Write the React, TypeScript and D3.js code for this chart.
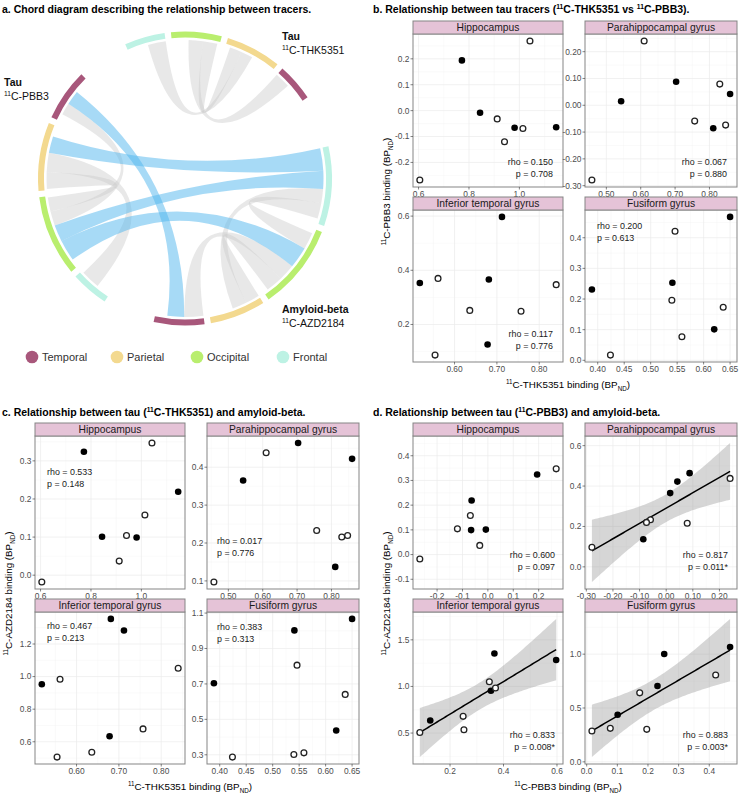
import React from "react";
import * as d3 from "d3";

// ======================= DATA =======================
// ---- Panel a: chord diagram ----
const tracerNames = ["THK5351", "AZD2184", "PBB3"]; // clockwise from the top
const regionOrder = ["Frontal", "Occipital", "Parietal", "Temporal"]; // clockwise inside each tracer
const legendRegions = ["Temporal", "Parietal", "Occipital", "Frontal"];
// sector sizes (same units as link values) per tracer, regions in regionOrder
const sectorValues = [
  [16, 20, 22, 15],
  [31.5, 34, 22, 20],
  [15, 32, 27, 20.5],
];
// weight of unshown links at the start of every sector
const hiddenLead = [
  [8.5, 7, 2, 0],
  [0, 2, 0, 0],
  [6, 3.5, 0.5, 3],
];
// [tracerA, regionA, valueA, tracerB, regionB, valueB]
const withinTracerLinks = [
  [0, "Frontal", 7.5, 0, "Parietal", 5],
  [0, "Occipital", 6, 0, "Parietal", 5],
  [0, "Occipital", 6, 0, "Temporal", 6.5],
  [1, "Frontal", 6.5, 1, "Occipital", 7],
  [1, "Frontal", 6, 1, "Parietal", 6],
  [1, "Occipital", 7, 1, "Parietal", 6],
  [1, "Occipital", 7, 1, "Temporal", 8],
  [2, "Frontal", 8, 2, "Parietal", 8],
  [2, "Occipital", 6, 2, "Parietal", 7],
  [2, "Occipital", 6, 2, "Temporal", 5],
];
const tauAmyloidLinks = [
  [2, "Parietal", 7, 1, "Frontal", 9.5],
  [2, "Occipital", 7, 1, "Frontal", 7.5],
  [2, "Occipital", 9, 1, "Occipital", 9],
  [2, "Temporal", 6, 1, "Temporal", 7],
];

// ---- Panels b-d: regional binding (BPND), 9 subjects per region ----
const regionNames = ["Hippocampus", "Parahippocampal gyrus", "Inferior temporal gyrus", "Fusiform gyrus"];
const thk5351 = [
  [0.605, 0.772, 0.844, 0.912, 0.941, 0.981, 1.014, 1.042, 1.146],
  [0.458, 0.543, 0.61, 0.703, 0.757, 0.811, 0.83, 0.847, 0.86],
  [0.518, 0.554, 0.561, 0.636, 0.678, 0.681, 0.712, 0.757, 0.84],
  [0.389, 0.424, 0.54, 0.541, 0.546, 0.559, 0.62, 0.637, 0.65],
];
const pbb3 = [
  [-0.268, 0.194, -0.008, -0.032, -0.12, -0.066, -0.069, 0.269, -0.064],
  [-0.279, 0.015, 0.24, 0.088, -0.059, -0.086, 0.079, -0.074, 0.042],
  [0.353, 0.087, 0.37, 0.252, 0.126, 0.366, 0.597, 0.249, 0.347],
  [0.231, 0.017, 0.196, 0.253, 0.421, 0.077, 0.101, 0.173, 0.468],
];
const azd2184 = [
  [-0.018, 0.324, 0.101, 0.037, 0.104, 0.099, 0.158, 0.347, 0.219],
  [0.097, 0.365, 0.438, 0.464, 0.233, 0.137, 0.216, 0.22, 0.422],
  [0.953, 0.506, 0.984, 0.536, 0.634, 1.354, 1.283, 0.679, 1.051],
  [0.704, 0.287, 0.302, 1.002, 0.806, 0.311, 0.437, 0.641, 1.067],
];
const amyloidPositive = [
  [0, 1, 1, 0, 0, 1, 0, 0, 1],
  [0, 1, 0, 1, 0, 1, 0, 0, 1],
  [1, 0, 0, 0, 1, 1, 1, 0, 0],
  [1, 0, 0, 1, 0, 0, 1, 0, 1],
];
const statsB = [["0.150", "0.708"], ["0.067", "0.880"], ["0.117", "0.776"], ["0.200", "0.613"]];
const statsC = [["0.533", "0.148"], ["0.017", "0.776"], ["0.467", "0.213"], ["0.383", "0.313"]];
const statsD = [["0.600", "0.097"], ["0.817", "0.011*"], ["0.833", "0.008*"], ["0.883", "0.003*"]];

const thkTicks = [[0.6, 0.8, 1.0], [0.5, 0.6, 0.7, 0.8], [0.6, 0.7, 0.8], [0.4, 0.45, 0.5, 0.55, 0.6, 0.65]];
const pbbTicks = [[-0.2, -0.1, 0.0, 0.1, 0.2], [-0.3, -0.2, -0.1, 0.0, 0.1, 0.2], [0.2, 0.4, 0.6], [0.0, 0.1, 0.2, 0.3, 0.4]];
const azdTicksC = [[0.0, 0.1, 0.2, 0.3], [0.1, 0.2, 0.3, 0.4], [0.6, 0.8, 1.0, 1.2], [0.3, 0.5, 0.7, 0.9, 1.1]];
const azdTicksD = [[-0.1, 0.0, 0.1, 0.2, 0.3, 0.4], [0.0, 0.2, 0.4, 0.6], [0.5, 1.0, 1.5], [0.0, 0.5, 1.0]];

// ======================= LAYOUT / STYLE =======================
const FONT = '"Liberation Sans", Arial, Helvetica, sans-serif';
const RAD = Math.PI / 180;
const CX = 185, CY = 178.5, R_OUT = 147, R_IN = 141, R_RIB = 138.5;
const START_ANGLE = -24, INNER_GAP = 2.5;
const regionColor: Record<string, string> = {
  Temporal: "#A8577B",
  Parietal: "#F3D98F",
  Occipital: "#B9EE6E",
  Frontal: "#BDF2E4",
};
const legendX = [32, 117, 197, 283];

const COLS = [[35, 185], [207, 359]];
const ROWS = [[34, 187], [210, 362]];
const STRIP_H = 13;
const STRIP_FILL = "#E5C3D7";
const BORDER = "#858585";
const TICK_FS = 8.4, NOTE_FS = 8.9, TITLE_FS = 10.5, AXIS_FS = 9.8;
// [corner, inset, first baseline offset]
const labB = [["br", 10, 22], ["br", 10, 22], ["br", 10, 25], ["tl", 12, 19]];
const labC = [["tl", 12, 39], ["bl", 10, 45], ["tl", 12, 17], ["tl", 10, 18]];
const labD = [["br", 8, 31], ["br", 9, 31], ["br", 8, 26], ["br", 9, 26]];

// ======================= HELPERS =======================
function Rich({ text, fs }: { text: string; fs: number }) {
  const re = /\^\{([^}]*)\}|_\{([^}]*)\}|([^\^_]+)/g;
  const parts: { t: string; k: string }[] = [];
  let m: RegExpExecArray | null;
  while ((m = re.exec(text))) {
    if (m[1] !== undefined) parts.push({ t: m[1], k: "sup" });
    else if (m[2] !== undefined) parts.push({ t: m[2], k: "sub" });
    else parts.push({ t: m[3], k: "n" });
  }
  let cur = 0;
  return (
    <>
      {parts.map((p, i) => {
        const target = p.k === "sup" ? -fs * 0.38 : p.k === "sub" ? fs * 0.32 : 0;
        const dy = target - cur;
        cur = target;
        return (
          <tspan key={i} dy={dy} fontSize={p.k === "n" ? fs : fs * 0.64}>
            {p.t}
          </tspan>
        );
      })}
    </>
  );
}

function chordLayout() {
  const total = d3.sum(sectorValues.flat());
  const groupGap = (360 - total - 3 * (regionOrder.length - 1) * INNER_GAP) / 3;
  const nodes: any[] = [];
  let a = START_ANGLE;
  tracerNames.forEach((tr, t) => {
    regionOrder.forEach((rg, r) => {
      const size = sectorValues[t][r];
      nodes.push({ t, region: rg, start: a, end: a + size, lead: hiddenLead[t][r], ends: [] });
      a += size + (r < regionOrder.length - 1 ? INNER_GAP : 0);
    });
    a += groupGap;
  });
  const idx = (t: number, rg: string) => t * regionOrder.length + regionOrder.indexOf(rg);
  const links = [
    ...withinTracerLinks.map((l) => ({ l, cross: false })),
    ...tauAmyloidLinks.map((l) => ({ l, cross: true })),
  ];
  const placed: any[] = links.map(() => [null, null]);
  links.forEach(({ l }, k) => {
    const na = idx(l[0] as number, l[1] as string);
    const nb = idx(l[3] as number, l[4] as string);
    nodes[na].ends.push({ k, side: 0, value: l[2], other: nb });
    nodes[nb].ends.push({ k, side: 1, value: l[5], other: na });
  });
  nodes.forEach((n) => {
    const c = (n.start + n.end) / 2;
    const key = (e: any) => {
      const o = nodes[e.other];
      const oc = (o.start + o.end) / 2;
      return (((oc - c) % 360) + 360) % 360;
    };
    n.ends.sort((p: any, q: any) => key(q) - key(p));
    let pos = n.start + n.lead;
    n.ends.forEach((e: any) => {
      placed[e.k][e.side] = { startAngle: pos * RAD, endAngle: (pos + e.value) * RAD };
      pos += e.value;
    });
  });
  return {
    nodes,
    ribbons: links.map((L, k) => ({ cross: L.cross, source: placed[k][0], target: placed[k][1] })),
  };
}

function lmBand(xs: number[], ys: number[]) {
  const n = xs.length;
  const mx = d3.mean(xs)!, my = d3.mean(ys)!;
  let sxx = 0, sxy = 0;
  xs.forEach((x, i) => {
    sxx += (x - mx) ** 2;
    sxy += (x - mx) * (ys[i] - my);
  });
  const b = sxy / sxx, a = my - b * mx;
  let sse = 0;
  xs.forEach((x, i) => (sse += (ys[i] - a - b * x) ** 2));
  const s = Math.sqrt(sse / (n - 2));
  const tq = 2.364624; // qt(0.975, df = 7)
  const [lo, hi] = d3.extent(xs) as [number, number];
  return d3.range(80).map((i) => {
    const x = lo + ((hi - lo) * i) / 79;
    const se = s * Math.sqrt(1 / n + (x - mx) ** 2 / sxx);
    const f = a + b * x;
    return { x, f, lo: f - tq * se, hi: f + tq * se };
  });
}

function fmtTicks(ticks: number[]) {
  const p = d3.precisionFixed(ticks[1] - ticks[0]);
  const f = d3.format(`.${p}f`);
  return (v: number) => f(v).replace("\u2212", "-");
}

function minorOf(ticks: number[], dom: number[]) {
  const step = ticks[1] - ticks[0];
  const out: number[] = [];
  for (let v = ticks[0] - step / 2; v <= dom[1] + 1e-9; v += step) {
    if (v >= dom[0]) out.push(v);
  }
  return out;
}

function Facet(props: any) {
  const { bx, by, fi, xs, ys, pos, xt, yt, stat, lab, smooth } = props;
  const [c0, c1] = COLS[fi % 2];
  const [r0, r1] = ROWS[Math.floor(fi / 2)];
  const X0 = bx + c0, X1 = bx + c1, Y0 = by + r0, Y1 = by + r1;
  const band = smooth ? lmBand(xs, ys) : null;
  const showLine = smooth && stat[1].includes("*");
  const xe = d3.extent(xs) as [number, number];
  let ylo = d3.min(ys)!, yhi = d3.max(ys)!;
  if (band) {
    ylo = Math.min(ylo, d3.min(band, (d) => d.lo)!);
    yhi = Math.max(yhi, d3.max(band, (d) => d.hi)!);
  }
  const xr = xe[1] - xe[0], yr = yhi - ylo;
  const xDom = [xe[0] - 0.05 * xr, xe[1] + 0.05 * xr];
  const yDom = [ylo - 0.05 * yr, yhi + 0.05 * yr];
  const x = d3.scaleLinear().domain(xDom).range([X0, X1]);
  const y = d3.scaleLinear().domain(yDom).range([Y1, Y0]);
  const xTicks = xt.filter((v: number) => v >= xDom[0] && v <= xDom[1]);
  const yTicks = yt.filter((v: number) => v >= yDom[0] && v <= yDom[1]);
  const fx = fmtTicks(xt), fy = fmtTicks(yt);
  const area = band
    ? d3.area<any>().x((d) => x(d.x)).y0((d) => y(d.lo)).y1((d) => y(d.hi))(band)
    : null;
  const line = band ? d3.line<any>().x((d) => x(d.x)).y((d) => y(d.f))(band) : null;
  const [corner, inset, off] = lab;
  const tx = corner === "br" ? X1 - inset : X0 + inset;
  const ty = corner === "tl" ? Y0 + off : Y1 - off;
  const anchor = corner === "br" ? "end" : "start";
  return (
    <g>
      <rect x={X0} y={Y0} width={X1 - X0} height={Y1 - Y0} fill="#fff" />
      {minorOf(xt, xDom).map((v, i) => (
        <line key={"mx" + i} x1={x(v)} x2={x(v)} y1={Y0} y2={Y1} stroke="#F3F3F3" strokeWidth={0.4} />
      ))}
      {minorOf(yt, yDom).map((v, i) => (
        <line key={"my" + i} y1={y(v)} y2={y(v)} x1={X0} x2={X1} stroke="#F3F3F3" strokeWidth={0.4} />
      ))}
      {xTicks.map((v: number, i: number) => (
        <line key={"gx" + i} x1={x(v)} x2={x(v)} y1={Y0} y2={Y1} stroke="#EBEBEB" strokeWidth={0.7} />
      ))}
      {yTicks.map((v: number, i: number) => (
        <line key={"gy" + i} y1={y(v)} y2={y(v)} x1={X0} x2={X1} stroke="#EBEBEB" strokeWidth={0.7} />
      ))}
      {showLine && area && <path d={area} fill="#999999" fillOpacity={0.4} />}
      {showLine && line && <path d={line} fill="none" stroke="#000" strokeWidth={1.5} />}
      {xs.map((v: number, i: number) =>
        pos[i] ? (
          <circle key={"p" + i} cx={x(v)} cy={y(ys[i])} r={3.3} fill="#000" />
        ) : (
          <circle key={"p" + i} cx={x(v)} cy={y(ys[i])} r={2.9} fill="#fff" stroke="#222" strokeWidth={1.3} />
        )
      )}
      <rect x={X0} y={Y0} width={X1 - X0} height={Y1 - Y0} fill="none" stroke={BORDER} strokeWidth={1} />
      <rect x={X0} y={Y0 - STRIP_H} width={X1 - X0} height={STRIP_H} fill={STRIP_FILL} stroke={BORDER} strokeWidth={1} />
      <text x={(X0 + X1) / 2} y={Y0 - STRIP_H / 2 + 3.7} textAnchor="middle" fontSize={10.3} fill="#1A1A1A">
        {regionNames[fi]}
      </text>
      {xTicks.map((v: number, i: number) => (
        <g key={"tx" + i}>
          <line x1={x(v)} x2={x(v)} y1={Y1} y2={Y1 + 2.5} stroke="#333" strokeWidth={0.6} />
          <text x={x(v)} y={Y1 + 10.3} textAnchor="middle" fontSize={TICK_FS} fill="#4D4D4D">
            {fx(v)}
          </text>
        </g>
      ))}
      {yTicks.map((v: number, i: number) => (
        <g key={"ty" + i}>
          <line x1={X0 - 2.5} x2={X0} y1={y(v)} y2={y(v)} stroke="#333" strokeWidth={0.6} />
          <text x={X0 - 3.5} y={y(v) + 2.9} textAnchor="end" fontSize={TICK_FS} fill="#4D4D4D">
            {fy(v)}
          </text>
        </g>
      ))}
      <text x={tx} y={ty} textAnchor={anchor} fontSize={NOTE_FS} fill="#1A1A1A">
        {`rho = ${stat[0]}`}
      </text>
      <text x={tx} y={ty + 12} textAnchor={anchor} fontSize={NOTE_FS} fill="#1A1A1A">
        {`p = ${stat[1]}`}
      </text>
    </g>
  );
}

function ScatterBlock(props: any) {
  const { bx, by, xData, yData, xt, yt, stats, labs, smooth, xTitle, yTitle } = props;
  const yc = by + (ROWS[0][0] - STRIP_H + ROWS[1][1]) / 2;
  return (
    <g>
      {regionNames.map((_, fi) => (
        <Facet
          key={fi}
          bx={bx}
          by={by}
          fi={fi}
          xs={xData[fi]}
          ys={yData[fi]}
          pos={amyloidPositive[fi]}
          xt={xt[fi]}
          yt={yt[fi]}
          stat={stats[fi]}
          lab={labs[fi]}
          smooth={smooth}
        />
      ))}
      <text x={bx + 190} y={by + 388} textAnchor="middle" fontSize={AXIS_FS} fill="#000">
        <Rich text={xTitle} fs={AXIS_FS} />
      </text>
      <text transform={`translate(${bx + 11.5},${yc}) rotate(-90)`} textAnchor="middle" fontSize={AXIS_FS} fill="#000">
        <Rich text={yTitle} fs={AXIS_FS} />
      </text>
    </g>
  );
}

export default function App() {
  const { nodes, ribbons } = chordLayout();
  const ribbon = d3.ribbon<any, any>().radius(R_RIB);
  const arc = d3.arc<any>();
  return (
    <svg
      width={739}
      height={796}
      style={{ position: "absolute", left: 0, top: 0, fontFamily: FONT, background: "#fff" }}
      fontFamily={FONT}
    >
      <rect width={739} height={796} fill="#fff" />
      {/* Panel titles */}
      <text x={2} y={13} fontSize={TITLE_FS} fontWeight="bold">
        <Rich text="a. Chord diagram describing the relationship between tracers." fs={TITLE_FS} />
      </text>
      <text x={373} y={13} fontSize={TITLE_FS} fontWeight="bold">
        <Rich text="b. Relationship between tau tracers (^{11}C-THK5351 vs ^{11}C-PBB3)." fs={TITLE_FS} />
      </text>
      <text x={2} y={416} fontSize={TITLE_FS} fontWeight="bold">
        <Rich text="c. Relationship between tau (^{11}C-THK5351) and amyloid-beta." fs={TITLE_FS} />
      </text>
      <text x={373} y={416} fontSize={TITLE_FS} fontWeight="bold">
        <Rich text="d. Relationship between tau (^{11}C-PBB3) and amyloid-beta." fs={TITLE_FS} />
      </text>

      {/* Panel a: chord diagram */}
      <g transform={`translate(${CX},${CY})`}>
        {ribbons
          .filter((r) => !r.cross)
          .map((r, i) => (
            <path key={"g" + i} d={ribbon(r) as any} fill="#C8C8C8" fillOpacity={0.42} />
          ))}
        {ribbons
          .filter((r) => r.cross)
          .map((r, i) => (
            <path key={"b" + i} d={ribbon(r) as any} fill="#4FB6EE" fillOpacity={0.5} />
          ))}
        {nodes.map((n, i) => (
          <path
            key={"n" + i}
            d={arc({ innerRadius: R_IN, outerRadius: R_OUT, startAngle: n.start * RAD, endAngle: n.end * RAD }) as any}
            fill={regionColor[n.region]}
          />
        ))}
      </g>
      <g fontSize={10.5} fill="#111">
        <text x={282} y={40} fontWeight="bold">Tau</text>
        <text x={282} y={54}><Rich text="^{11}C-THK5351" fs={10.5} /></text>
        <text x={4} y={86} fontWeight="bold">Tau</text>
        <text x={4} y={100}><Rich text="^{11}C-PBB3" fs={10.5} /></text>
        <text x={282} y={313} fontWeight="bold">Amyloid-beta</text>
        <text x={282} y={327}><Rich text="^{11}C-AZD2184" fs={10.5} /></text>
      </g>
      {legendRegions.map((rg, i) => (
        <g key={rg}>
          <circle cx={legendX[i]} cy={357} r={6.3} fill={regionColor[rg]} />
          <text x={legendX[i] + 10} y={361} fontSize={11} fill="#333">
            {rg}
          </text>
        </g>
      ))}

      {/* Panel b */}
      <ScatterBlock
        bx={378}
        by={0}
        xData={thk5351}
        yData={pbb3}
        xt={thkTicks}
        yt={pbbTicks}
        stats={statsB}
        labs={labB}
        smooth={false}
        xTitle="^{11}C-THK5351 binding (BP_{ND})"
        yTitle="^{11}C-PBB3 binding (BP_{ND})"
      />
      {/* Panel c */}
      <ScatterBlock
        bx={0}
        by={402}
        xData={thk5351}
        yData={azd2184}
        xt={thkTicks}
        yt={azdTicksC}
        stats={statsC}
        labs={labC}
        smooth={false}
        xTitle="^{11}C-THK5351 binding (BP_{ND})"
        yTitle="^{11}C-AZD2184 binding (BP_{ND})"
      />
      {/* Panel d */}
      <ScatterBlock
        bx={378}
        by={402}
        xData={pbb3}
        yData={azd2184}
        xt={pbbTicks}
        yt={azdTicksD}
        stats={statsD}
        labs={labD}
        smooth={true}
        xTitle="^{11}C-PBB3 binding (BP_{ND})"
        yTitle="^{11}C-AZD2184 binding (BP_{ND})"
      />
    </svg>
  );
}
